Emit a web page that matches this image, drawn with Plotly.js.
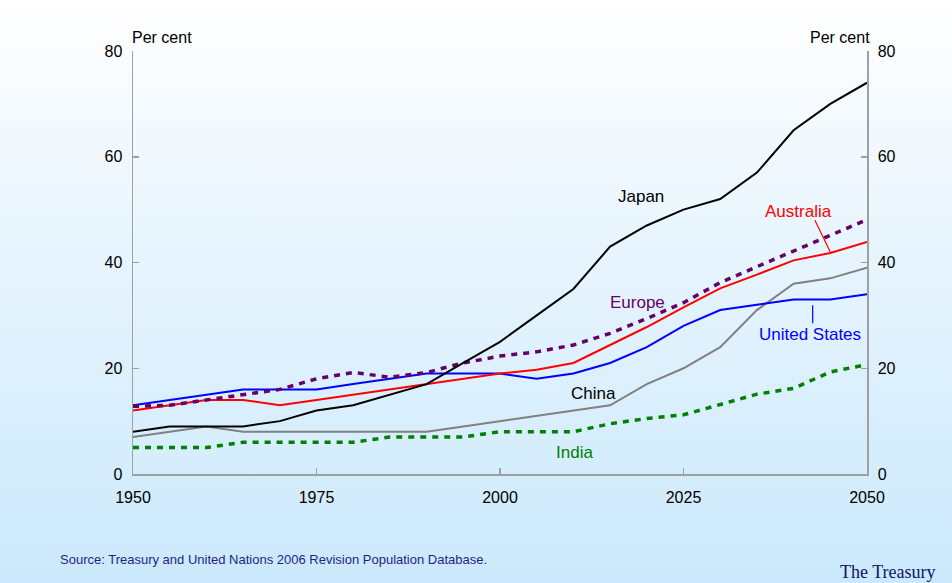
<!DOCTYPE html>
<html>
<head>
<meta charset="utf-8">
<script src="https://cdn.plot.ly/plotly-3.0.1.min.js"></script>
<style>
html,body{margin:0;padding:0;}
body{width:952px;height:583px;background:linear-gradient(to bottom,#ffffff 0%,#e6f4fd 45%,#cbe9fc 100%);}
#chart{width:952px;height:583px;}
</style>
</head>
<body>
<div id="chart"></div>
<script>
const years = [1950,1955,1960,1965,1970,1975,1980,1985,1990,1995,2000,2005,2010,2015,2020,2025,2030,2035,2040,2045,2050];
const japan = [8,9,9,9,10,12,13,15,17,21,25,30,35,43,47,50,52,57,65,70,74];
const australia = [12,13,14,14,13,14,15,16,17,18,19,19.7,21,24.4,27.8,31.5,35.1,37.7,40.4,41.8,43.9];
const unitedStates = [13,14,15,16,16,16,17,18,19,19,19,18,19,21,24,28,31,32,33,33,34];
const europe = [12.8,13,14,15,16,18,19.2,18.3,19.2,21,22.3,23.1,24.4,26.6,29.4,32.4,36.2,39.2,42.2,45.2,48.1];
const china = [7,8,9,8,8,8,8,8,8,9,10,11,12,13,17,20,24,31,36,37,39];
const india = [5,5,5,6,6,6,6,7,7,7,8,8,8,9.5,10.5,11.2,13.2,15.1,16.2,19.3,20.7];
const yTicks = [0,20,40,60,80];
const xTicks = [1950,1975,2000,2025,2050];

const FONT = 'Liberation Sans, Arial, sans-serif';
function line(y, color, width, dash){
  return {x: years, y: y, type:'scatter', mode:'lines', hoverinfo:'skip', showlegend:false,
    line:{color:color, width:width, dash:dash||'solid'}};
}
const traces = [
  line(china, '#808080', 2),
  line(india, '#008000', 3.5, '6px,6px'),
  line(unitedStates, '#0000ff', 2),
  line(australia, '#ff0000', 2),
  line(europe, '#660066', 3.5, '6px,6px'),
  line(japan, '#000000', 2),
  Object.assign(line(japan, 'rgba(0,0,0,0)', 0), {yaxis:'y2', opacity:0})
];

const axisCommon = {showgrid:false, zeroline:false, showline:true, linecolor:'#a0a0a0', linewidth:1.5,
  ticks:'inside', ticklen:6, tickcolor:'#a0a0a0', tickwidth:1.5,
  tickfont:{family:FONT, size:16, color:'#000'}};

const ann = (text, x, y, color, extra) => Object.assign({text:text, x:x, y:y, xref:'x', yref:'y', showarrow:false,
  font:{family:FONT, size:17, color:color}}, extra||{});

const layout = {
  width:952, height:583,
  margin:{l:133, r:85, t:51, b:109, pad:0},
  paper_bgcolor:'rgba(0,0,0,0)', plot_bgcolor:'rgba(0,0,0,0)',
  xaxis: Object.assign({}, axisCommon, {range:[1950,2050], tickvals:xTicks, ticktext:xTicks.map(String), ticklabelstandoff:8}),
  yaxis: Object.assign({}, axisCommon, {range:[0,80], tickvals:yTicks, ticklabelstandoff:6}),
  yaxis2: Object.assign({}, axisCommon, {range:[0,80], tickvals:yTicks, overlaying:'y', side:'right', ticklabelstandoff:6}),
  annotations:[
    ann('Japan', 2019.2, 52.4, '#000000'),
    ann('Australia', 2040.6, 49.7, '#ff0000'),
    ann('Europe', 2018.7, 32.5, '#660066'),
    ann('United States', 2042.2, 26.3, '#0000ff'),
    ann('China', 2012.7, 15.3, '#000000'),
    ann('India', 2010.2, 4.0, '#008000'),
    {text:'Per cent', xref:'paper', yref:'paper', x:0, y:1, xanchor:'left', yanchor:'bottom', yshift:3, xshift:-3, showarrow:false,
      font:{family:FONT, size:16, color:'#000'}},
    {text:'Per cent', xref:'paper', yref:'paper', x:1, y:1, xanchor:'right', yanchor:'bottom', yshift:3, xshift:5, showarrow:false,
      font:{family:FONT, size:16, color:'#000'}},
    {text:'Source: Treasury and United Nations 2006 Revision Population Database.', xref:'paper', yref:'paper',
      x:(58-133)/734, y:-(559-474)/423, xanchor:'left', yanchor:'middle', showarrow:false,
      font:{family:FONT, size:13, color:'#1f1f88'}},
    {text:'The Treasury', xref:'paper', yref:'paper', x:(938-133)/734, y:-(572-474)/423, xanchor:'right', yanchor:'middle', showarrow:false,
      font:{family:'Liberation Serif, Times New Roman, serif', size:18, color:'#0d1466'}}
  ],
  shapes:[
    {type:'line', xref:'x', yref:'y', x0:2042.9, y0:48.0, x1:2045.0, y1:42.0, line:{color:'#ff0000', width:1.2}},
    {type:'line', xref:'x', yref:'y', x0:2042.6, y0:31.9, x1:2042.6, y1:28.5, line:{color:'#0000ff', width:1.2}}
  ]
};

Plotly.newPlot('chart', traces, layout, {displayModeBar:false, staticPlot:true});
</script>
</body>
</html>
